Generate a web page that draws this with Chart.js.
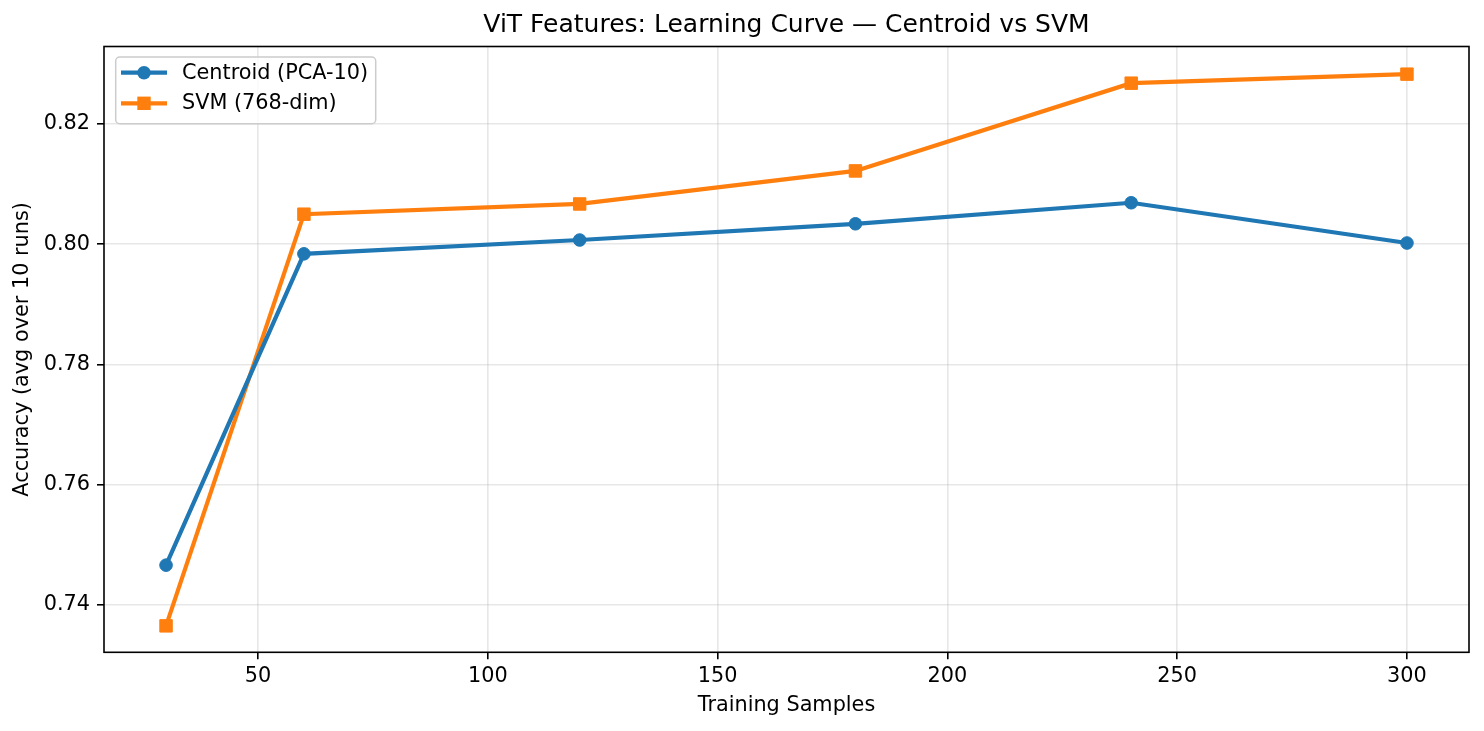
<!DOCTYPE html>
<html>
<head>
<meta charset="utf-8">
<script src="https://cdn.jsdelivr.net/npm/chart.js@4.4.1/dist/chart.umd.min.js"></script>
<style>
  body { margin: 0; background: #fff; }
</style>
</head>
<body>
<canvas id="curveChart" width="1484" height="731"></canvas>
<script>
// Data
const trainSizes = [30, 60, 120, 180, 240, 300];
const centroidAcc = [0.7466, 0.7984, 0.8007, 0.8034, 0.8069, 0.8002];
const svmAcc = [0.7365, 0.8050, 0.8067, 0.8122, 0.8268, 0.8283];
const xTicks = [50, 100, 150, 200, 250, 300];
const yTicks = [0.74, 0.76, 0.78, 0.80, 0.82];
const seriesNames = ["Centroid (PCA-10)", "SVM (768-dim)"];
const chartTitle = "ViT Features: Learning Curve — Centroid vs SVM";

const BLUE = "#1f77b4";
const ORANGE = "#ff7f0e";
const FONT = "'DejaVu Sans', sans-serif";
const GRID = "rgba(176,176,176,0.3)";

Chart.defaults.font.family = FONT;
Chart.defaults.color = "#000";

const toPoints = ys => trainSizes.map((x, k) => ({ x: x, y: ys[k] }));

// title, axes frame and legend drawn the matplotlib way
const decor = {
  id: "decor",
  afterDraw(chart) {
    const { ctx, chartArea: a } = chart;
    ctx.save();

    ctx.fillStyle = "#000";
    ctx.font = "25px " + FONT;
    ctx.textAlign = "center";
    ctx.textBaseline = "middle";
    ctx.fillText(chartTitle, (a.left + a.right) / 2, 25.5);

    ctx.strokeStyle = "#000";
    ctx.lineWidth = 1.6;
    ctx.strokeRect(a.left, a.top, a.right - a.left, a.bottom - a.top);

    // legend box
    const bx = a.left + 11.7, by = a.top + 10.5;
    ctx.beginPath();
    ctx.roundRect(bx, by, 260, 66.7, 4);
    ctx.fillStyle = "rgba(255,255,255,0.8)";
    ctx.fill();
    ctx.strokeStyle = "#cccccc";
    ctx.lineWidth = 1.5;
    ctx.stroke();

    const rows = [a.top + 26.2, a.top + 56.8];
    const colors = [BLUE, ORANGE];
    rows.forEach((ry, k) => {
      ctx.strokeStyle = colors[k];
      ctx.fillStyle = colors[k];
      ctx.lineWidth = 4.2;
      ctx.beginPath();
      ctx.moveTo(a.left + 17, ry);
      ctx.lineTo(a.left + 63, ry);
      ctx.stroke();
      const mx = a.left + 40;
      if (k === 0) {
        ctx.beginPath();
        ctx.arc(mx, ry, 6.8, 0, Math.PI * 2);
        ctx.fill();
      } else {
        ctx.fillRect(mx - 6.7, ry - 6.7, 13.4, 13.4);
      }
      ctx.fillStyle = "#000";
      ctx.font = "20.8px " + FONT;
      ctx.textAlign = "left";
      ctx.textBaseline = "middle";
      ctx.fillText(seriesNames[k], a.left + 78, ry + 0.5);
    });

    ctx.restore();
  }
};

const ctx = document.getElementById("curveChart").getContext("2d");

new Chart(ctx, {
  type: "line",
  data: {
    datasets: [
      {
        label: seriesNames[0],
        data: toPoints(centroidAcc),
        borderColor: BLUE,
        backgroundColor: BLUE,
        borderWidth: 4.2,
        pointStyle: "circle",
        pointRadius: 6.3,
        pointBorderWidth: 1,
        tension: 0
      },
      {
        label: seriesNames[1],
        data: toPoints(svmAcc),
        borderColor: ORANGE,
        backgroundColor: ORANGE,
        borderWidth: 4.2,
        pointStyle: "rect",
        pointRadius: 8.8,
        pointBorderWidth: 1,
        tension: 0
      }
    ]
  },
  options: {
    responsive: false,
    animation: false,
    layout: { padding: { top: 46.5, right: 15, bottom: 0, left: 0 } },
    plugins: {
      legend: { display: false },
      title: { display: false },
      tooltip: { enabled: false }
    },
    scales: {
      x: {
        type: "linear",
        min: 16.5,
        max: 313.5,
        afterBuildTicks: s => { s.ticks = xTicks.map(v => ({ value: v })); },
        afterFit: s => { s.height = 78.7; },
        ticks: {
          font: { size: 20.8 },
          padding: 5,
          maxRotation: 0,
          autoSkip: false,
          callback: v => String(v)
        },
        grid: { color: GRID, lineWidth: 1.6, tickColor: "#000", tickWidth: 1.6, tickLength: 7 },
        border: { display: false },
        title: {
          display: true,
          text: "Training Samples",
          font: { size: 20.8 },
          padding: { top: 0, bottom: 12.5 }
        }
      },
      y: {
        type: "linear",
        min: 0.7321,
        max: 0.8329,
        afterBuildTicks: s => { s.ticks = yTicks.map(v => ({ value: v })); },
        afterFit: s => { s.width = 104; },
        ticks: {
          font: { size: 20.8 },
          padding: 7,
          autoSkip: false,
          callback: v => v.toFixed(2)
        },
        grid: { color: GRID, lineWidth: 1.6, tickColor: "#000", tickWidth: 1.6, tickLength: 7 },
        border: { display: false },
        title: {
          display: true,
          text: "Accuracy (avg over 10 runs)",
          font: { size: 20.8 },
          padding: { top: 10.5, bottom: 0 }
        }
      }
    }
  },
  plugins: [decor]
});
</script>
</body>
</html>
